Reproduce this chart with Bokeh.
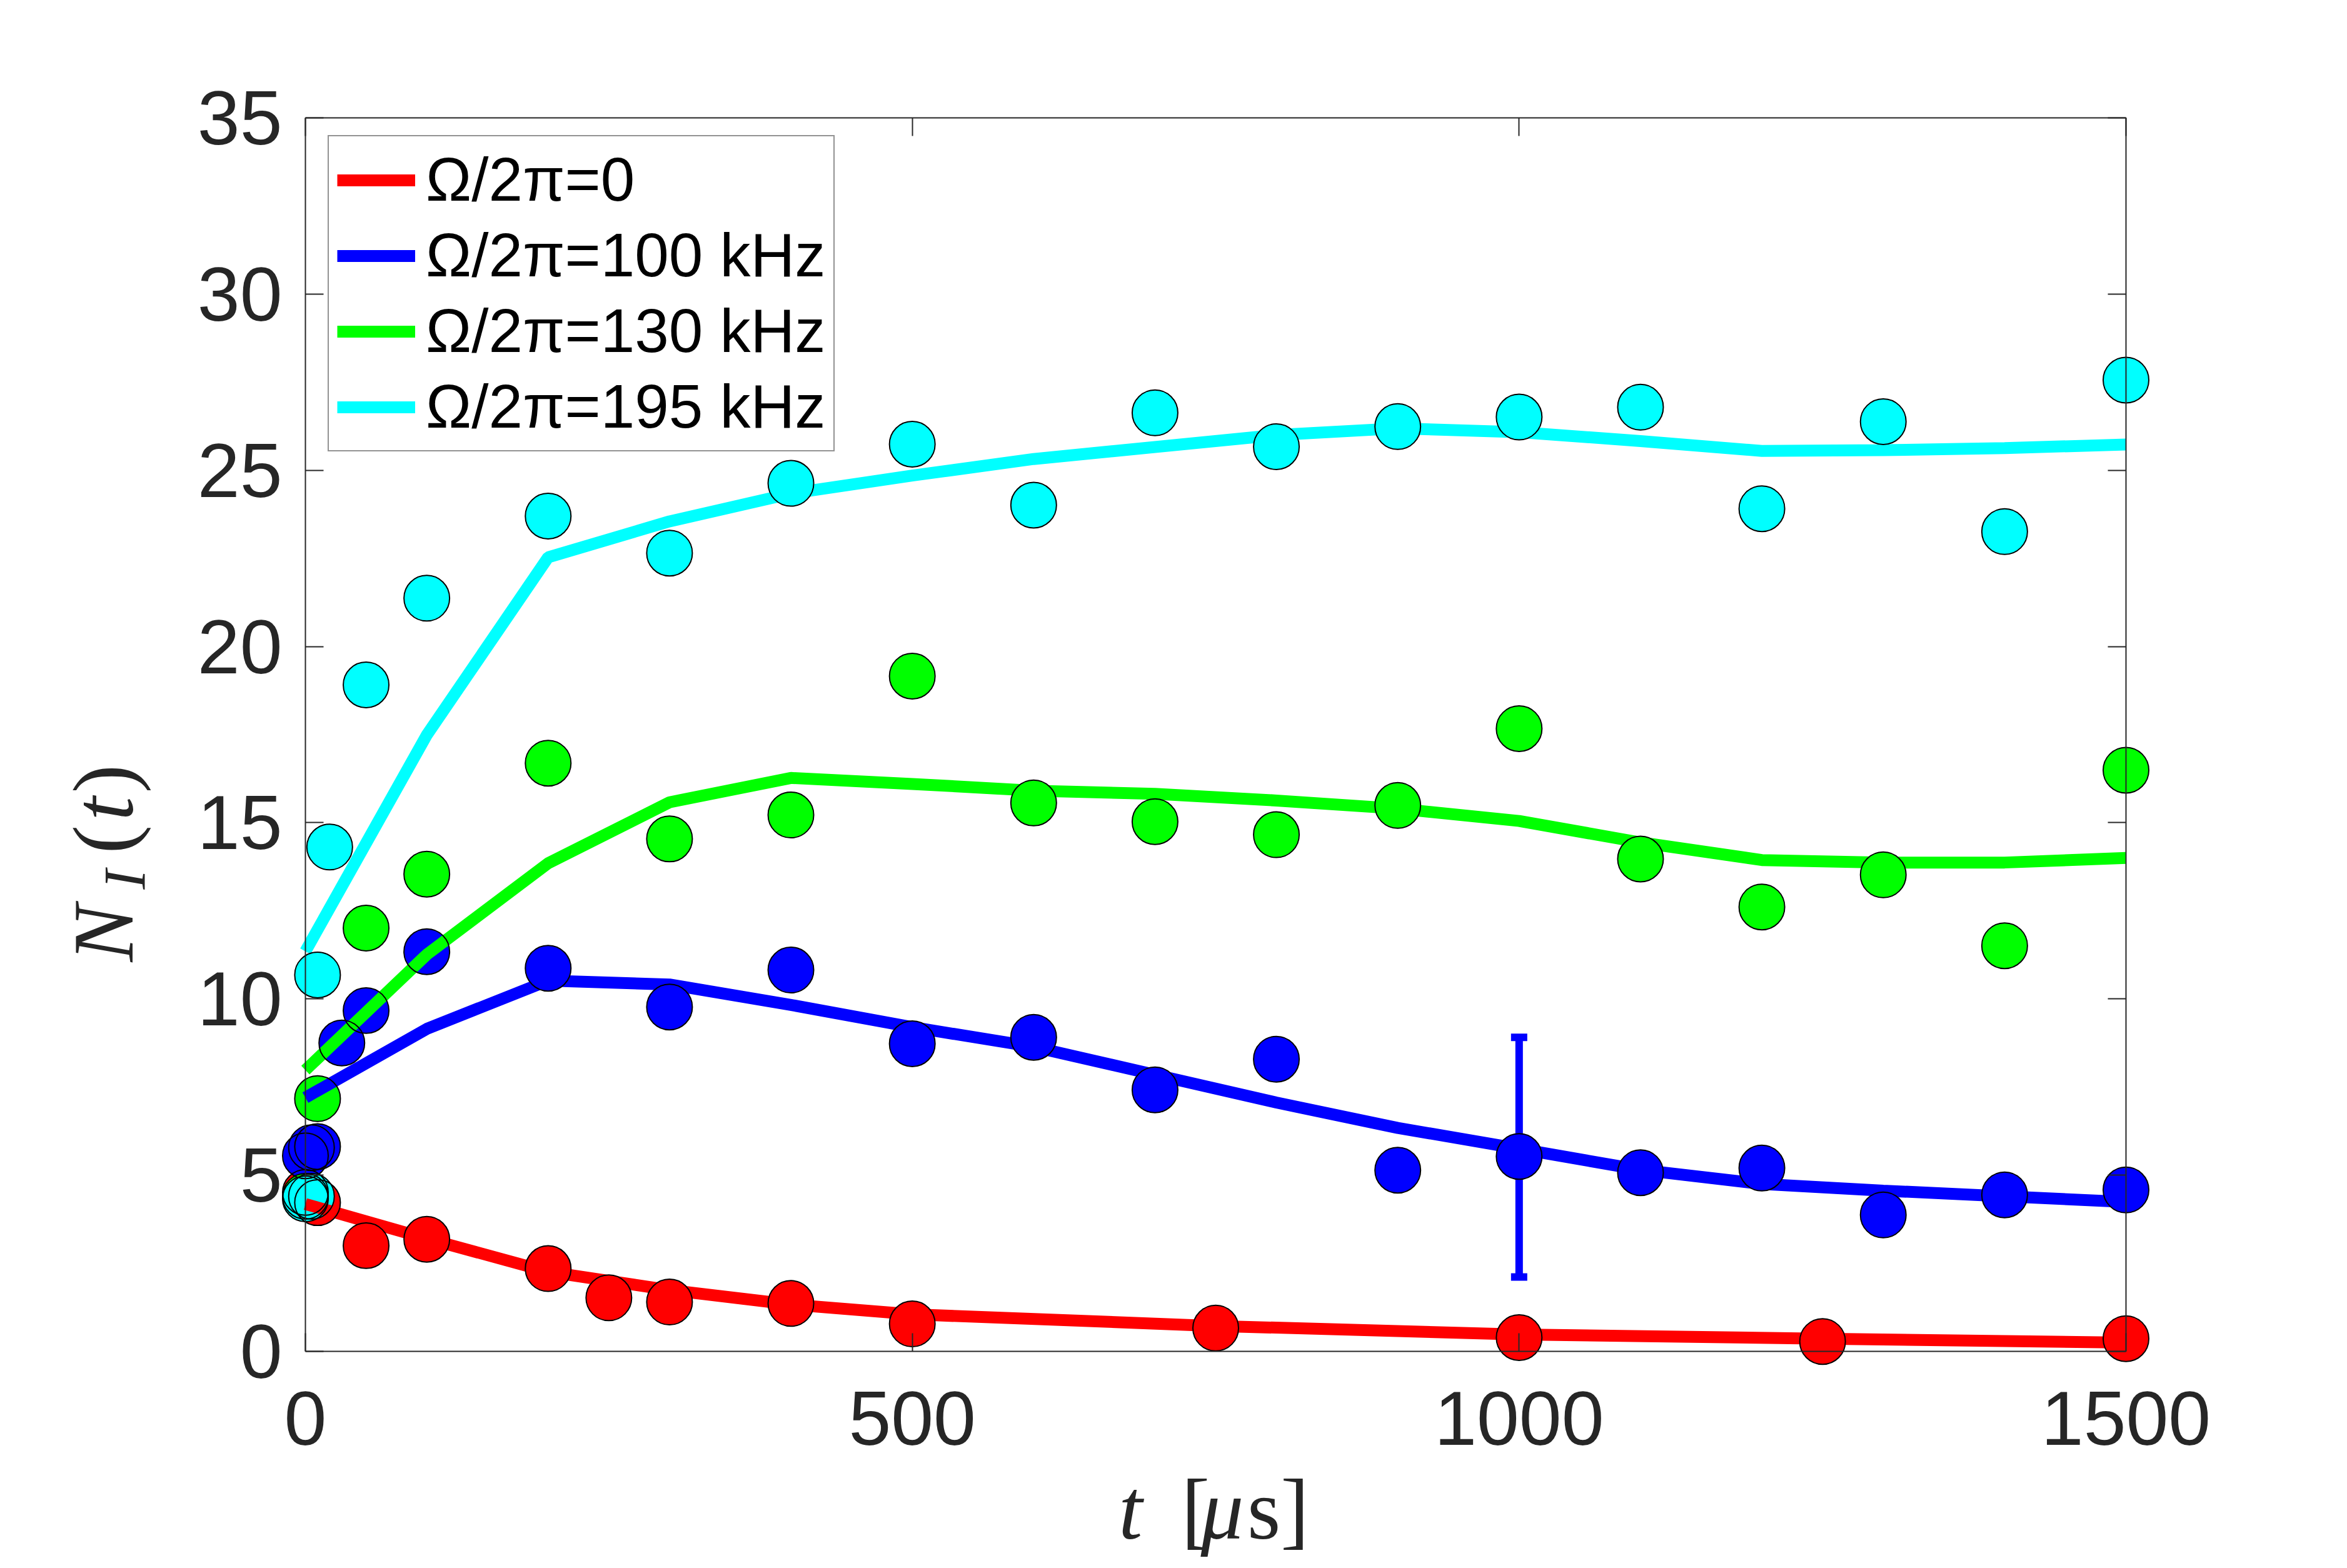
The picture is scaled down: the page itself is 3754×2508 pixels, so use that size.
import math
from bokeh.plotting import figure
from bokeh.models import (Range1d, LinearAxis, Legend, LegendItem, Label, Whisker,
                          TeeHead, ColumnDataSource, FixedTicker, CustomJSTickFormatter, Grid)
from bokeh.embed import file_html
from bokeh.resources import INLINE

# ---------------- data ----------------
red_t = [0, 10, 50, 100, 200, 250, 300, 400, 500, 750, 1000, 1250, 1500]
red_n = [4.51, 4.22, 3.00, 3.18, 2.35, 1.52, 1.40, 1.36, 0.78, 0.66, 0.39, 0.28, 0.36]

blue_t = [0, 5, 10, 30, 50, 100, 200, 300, 400, 500, 600, 700, 800, 900, 1000, 1100, 1200, 1300, 1400, 1500]
blue_n = [5.55, 5.78, 5.81, 8.75, 9.67, 11.34, 10.87, 9.77, 10.82, 8.73, 8.91, 7.42, 8.29, 5.14, 5.53, 5.07, 5.20, 3.87, 4.44, 4.58]

green_t = [0, 10, 50, 100, 200, 300, 400, 500, 600, 700, 800, 900, 1000, 1100, 1200, 1300, 1400, 1500]
green_n = [4.40, 7.17, 12.01, 13.54, 16.69, 14.54, 15.22, 19.16, 15.56, 15.03, 14.66, 15.49, 17.67, 13.97, 12.61, 13.52, 11.51, 16.49]

cyan_t = [0, 5, 10, 20, 50, 100, 200, 300, 400, 500, 600, 700, 800, 900, 1000, 1100, 1200, 1300, 1400, 1500]
cyan_n = [4.33, 4.40, 10.68, 14.31, 18.91, 21.37, 23.70, 22.65, 24.63, 25.74, 24.01, 26.63, 25.67, 26.24, 26.51, 26.79, 23.91, 26.38, 23.26, 27.56]

# model curves
red_fit_t = [0, 100, 200, 300, 400, 500, 750, 1000, 1250, 1500]
red_fit_n = [4.18, 3.20, 2.26, 1.74, 1.33, 1.05, 0.72, 0.48, 0.36, 0.25]

fit_t = [0, 100, 200, 300, 400, 500, 600, 700, 800, 900, 1000, 1100, 1200, 1300, 1400, 1500]
blue_fit_n = [7.20, 9.15, 10.52, 10.41, 9.83, 9.20, 8.64, 7.85, 7.06, 6.34, 5.75, 5.15, 4.75, 4.56, 4.40, 4.24]
green_fit_n = [7.98, 11.26, 13.85, 15.58, 16.27, 16.10, 15.91, 15.82, 15.63, 15.40, 15.05, 14.44, 13.94, 13.87, 13.87, 14.00]
cyan_fit_n = [11.35, 17.49, 22.53, 23.55, 24.34, 24.85, 25.32, 25.66, 26.00, 26.19, 26.08, 25.83, 25.55, 25.57, 25.63, 25.73]

# error bar
err_t = [1000]
err_lo = [2.11]
err_hi = [8.91]

labels = ["Ω/2π=0", "Ω/2π=100 kHz", "Ω/2π=130 kHz", "Ω/2π=195 kHz"]
colors = ["#ff0000", "#0000ff", "#00ff00", "#00ffff"]

x_ticks = [0, 500, 1000, 1500]
y_ticks = [0, 5, 10, 15, 20, 25, 30, 35]
X_LIM = (0, 1500)
Y_LIM = (0, 35)

# ---------------- layout ----------------
W, H = 3738, 2492
# canvas-pixel calibration of the axes box: t=0 -> 488, t=1500 -> 3400, N=0 -> 2161, N=35 -> 188
PX0, PX1, PY0, PY1 = 488.0, 3400.0, 2161.0, 188.0
sx = (PX1 - PX0) / (X_LIM[1] - X_LIM[0])
sy = (PY0 - PY1) / (Y_LIM[1] - Y_LIM[0])
# frame covers the whole canvas
x_range = Range1d((0 - PX0) / sx, (W - PX0) / sx)
y_range = Range1d((PY0 - H) / sy, (PY0 - 0) / sy)

AX = "#262626"

p = figure(width=W, height=H, output_backend="svg", toolbar_location=None, title=None,
           x_range=x_range, y_range=y_range, x_axis_location=None, y_axis_location=None,
           min_border_left=0, min_border_right=0, min_border_top=0, min_border_bottom=0,
           background_fill_color="white", border_fill_color="white")
p.outline_line_color = None


def make_axis(ticks, bounds, loc, show_labels, standoff=0):
    ax = LinearAxis(ticker=FixedTicker(ticks=ticks), bounds=bounds, fixed_location=loc)
    ax.axis_line_color = AX
    ax.axis_line_width = 2
    ax.major_tick_line_color = AX
    ax.major_tick_line_width = 2
    ax.major_tick_in = 29
    ax.major_tick_out = 0
    ax.minor_tick_line_color = None
    ax.major_label_text_font = "Liberation Sans"
    ax.major_label_text_font_size = "122px"
    ax.major_label_text_color = AX
    ax.major_label_standoff = standoff
    if not show_labels:
        ax.formatter = CustomJSTickFormatter(code="return ''")
    return ax


p.add_layout(make_axis(x_ticks, X_LIM, Y_LIM[0], True, 64), "below")
p.add_layout(make_axis(y_ticks, Y_LIM, X_LIM[0], True, 37), "left")
p.add_layout(make_axis(x_ticks, X_LIM, Y_LIM[1], False), "above")
p.add_layout(make_axis(y_ticks, Y_LIM, X_LIM[1], False), "right")

for r in list(p.center):
    if isinstance(r, Grid):
        r.visible = False
        r.grid_line_color = None

# error bar (under the markers)
esrc = ColumnDataSource(dict(base=err_t, lower=err_lo, upper=err_hi))
wh = Whisker(source=esrc, base="base", lower="lower", upper="upper", dimension="height",
             line_color="#0000ff", line_width=12,
             upper_head=TeeHead(size=26, line_color="#0000ff", line_width=12),
             lower_head=TeeHead(size=26, line_color="#0000ff", line_width=12))
p.add_layout(wh)

series = [(red_t, red_n, red_fit_t, red_fit_n),
          (blue_t, blue_n, fit_t, blue_fit_n),
          (green_t, green_n, fit_t, green_fit_n),
          (cyan_t, cyan_n, fit_t, cyan_fit_n)]

MS = 73
# 1) marker fills
for (t, n, ft, fn), c in zip(series, colors):
    p.scatter(t, n, marker="circle", size=MS, fill_color=c, line_color=None)
# 2) model lines
line_rs = []
for (t, n, ft, fn), c in zip(series, colors):
    line_rs.append(p.line(ft, fn, line_color=c, line_width=19))
# 3) marker outlines
for (t, n, ft, fn), c in zip(series, colors):
    p.scatter(t, n, marker="circle", size=MS, fill_color=None, line_color="black", line_width=2)

legend = Legend(items=[LegendItem(label=l, renderers=[r]) for l, r in zip(labels, line_rs)],
                location=(524, 1770), orientation="vertical")
legend.label_text_font = "Liberation Sans"
legend.label_text_font_size = "98px"
legend.label_text_color = "black"
legend.glyph_width = 125
legend.glyph_height = 108
legend.label_height = 108
legend.label_standoff = 17
legend.spacing = 8
legend.padding = 13
legend.margin = 0
legend.border_line_color = AX
legend.border_line_width = 2
legend.background_fill_color = "white"
legend.background_fill_alpha = 1.0
p.add_layout(legend)


# axis titles (LaTeX-like pieces)
def lab(x, y, text, size, italic=False, angle=0.0):
    p.add_layout(Label(x=x, y=y, text=text, angle=angle,
                       text_font="Liberation Serif", text_font_size=size,
                       text_font_style="italic" if italic else "normal",
                       text_color=AX, text_align="left", text_baseline="alphabetic"))


XB = -4.49
lab(670, XB, "t", "137px", italic=True)
lab(721.7, XB, "[", "137px")
lab(737.7, XB, "μ", "137px", italic=True)
lab(776, XB, "s]", "137px")

A = math.pi / 2
YB = -165.9
lab(YB, 11.05, "N", "137px", italic=True, angle=A)
lab(-148.4, 13.11, "I", "95px", italic=True, angle=A)
lab(YB, 14.12, "(", "137px", angle=A)
lab(YB, 15.06, "t", "137px", italic=True, angle=A)
lab(YB, 15.84, ")", "137px", angle=A)

open("out.html", "w").write(file_html(p, INLINE))
